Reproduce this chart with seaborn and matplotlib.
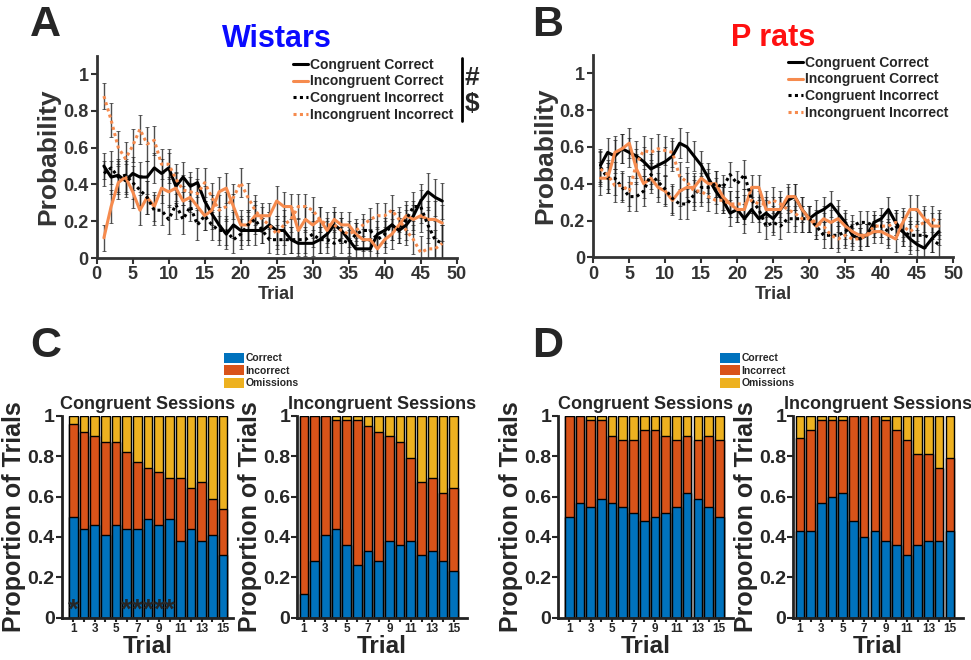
# ============================================================
# Congruent / incongruent trial performance - Wistars vs P rats
# ============================================================

import numpy as np
import pandas as pd
import matplotlib
matplotlib.use("Agg")
import matplotlib.pyplot as plt
from matplotlib.lines import Line2D
from matplotlib.patches import Patch
import seaborn as sns

# ============================================================
# DATA
# ============================================================

TRIALS = list(range(1, 49))

# Panel A - Wistars
A_CONG_CORRECT = [0.50, 0.44, 0.45, 0.42, 0.46, 0.44, 0.44, 0.49, 0.46, 0.49,
                  0.39, 0.44, 0.39, 0.41, 0.31, 0.24, 0.18, 0.13, 0.18, 0.15,
                  0.15, 0.15, 0.15, 0.18, 0.15, 0.15, 0.10, 0.08, 0.08, 0.08,
                  0.10, 0.13, 0.18, 0.15, 0.10, 0.05, 0.05, 0.05, 0.13, 0.15,
                  0.18, 0.15, 0.18, 0.23, 0.31, 0.36, 0.33, 0.31]
A_INCONG_CORRECT = [0.11, 0.28, 0.41, 0.44, 0.36, 0.26, 0.33, 0.28, 0.38, 0.36,
                    0.38, 0.31, 0.33, 0.28, 0.23, 0.26, 0.36, 0.38, 0.28, 0.18,
                    0.18, 0.23, 0.23, 0.23, 0.31, 0.28, 0.28, 0.15, 0.21, 0.18,
                    0.21, 0.15, 0.21, 0.18, 0.18, 0.13, 0.10, 0.10, 0.05, 0.10,
                    0.13, 0.18, 0.23, 0.21, 0.23, 0.21, 0.21, 0.19]
A_CONG_INCORRECT = [0.46, 0.49, 0.44, 0.45, 0.41, 0.37, 0.33, 0.26, 0.26, 0.21,
                    0.29, 0.21, 0.28, 0.18, 0.23, 0.18, 0.15, 0.15, 0.10, 0.13,
                    0.18, 0.21, 0.15, 0.10, 0.10, 0.10, 0.10, 0.10, 0.10, 0.13,
                    0.10, 0.10, 0.08, 0.10, 0.08, 0.13, 0.15, 0.15, 0.10, 0.13,
                    0.18, 0.15, 0.21, 0.28, 0.28, 0.18, 0.10, 0.08]
A_INCONG_INCORRECT = [0.88, 0.75, 0.60, 0.54, 0.61, 0.70, 0.62, 0.64, 0.51, 0.51,
                      0.43, 0.37, 0.36, 0.35, 0.41, 0.33, 0.26, 0.28, 0.33, 0.41,
                      0.33, 0.26, 0.21, 0.18, 0.13, 0.18, 0.21, 0.28, 0.28, 0.26,
                      0.21, 0.18, 0.18, 0.15, 0.13, 0.15, 0.18, 0.21, 0.23, 0.23,
                      0.26, 0.21, 0.15, 0.10, 0.03, 0.05, 0.05, 0.08]
A_SEM = [0.07, 0.09, 0.09, 0.09, 0.09, 0.08, 0.09, 0.08, 0.08, 0.08,
         0.08, 0.08, 0.08, 0.08, 0.08, 0.08, 0.08, 0.08, 0.07, 0.08,
         0.08, 0.08, 0.07, 0.07, 0.08, 0.08, 0.07, 0.07, 0.07, 0.07,
         0.07, 0.07, 0.07, 0.07, 0.07, 0.06, 0.06, 0.06, 0.07, 0.07,
         0.08, 0.07, 0.08, 0.08, 0.09, 0.10, 0.10, 0.10]

# Panel B - P rats
B_CONG_CORRECT = [0.50, 0.57, 0.55, 0.59, 0.57, 0.55, 0.52, 0.48, 0.50, 0.52,
                  0.55, 0.62, 0.60, 0.55, 0.50, 0.43, 0.36, 0.31, 0.24, 0.26,
                  0.21, 0.26, 0.21, 0.24, 0.21, 0.26, 0.31, 0.33, 0.26, 0.21,
                  0.24, 0.26, 0.29, 0.24, 0.19, 0.12, 0.10, 0.12, 0.19, 0.21,
                  0.26, 0.19, 0.14, 0.10, 0.07, 0.05, 0.10, 0.14]
B_INCONG_CORRECT = [0.43, 0.43, 0.57, 0.59, 0.62, 0.48, 0.40, 0.43, 0.38, 0.36,
                    0.31, 0.36, 0.38, 0.38, 0.43, 0.40, 0.40, 0.33, 0.29, 0.26,
                    0.26, 0.38, 0.38, 0.26, 0.26, 0.26, 0.33, 0.33, 0.26, 0.21,
                    0.17, 0.21, 0.19, 0.21, 0.17, 0.14, 0.12, 0.12, 0.14, 0.14,
                    0.12, 0.10, 0.19, 0.26, 0.26, 0.21, 0.17, 0.17]
B_CONG_INCORRECT = [0.49, 0.43, 0.43, 0.38, 0.33, 0.33, 0.36, 0.45, 0.41, 0.37,
                    0.32, 0.29, 0.29, 0.34, 0.38, 0.38, 0.40, 0.38, 0.45, 0.40,
                    0.45, 0.31, 0.26, 0.17, 0.19, 0.17, 0.21, 0.21, 0.21, 0.21,
                    0.17, 0.12, 0.12, 0.12, 0.14, 0.17, 0.19, 0.19, 0.17, 0.17,
                    0.14, 0.17, 0.14, 0.12, 0.12, 0.12, 0.10, 0.07]
B_INCONG_INCORRECT = [0.48, 0.45, 0.39, 0.39, 0.36, 0.51, 0.58, 0.57, 0.59, 0.58,
                      0.57, 0.44, 0.41, 0.36, 0.36, 0.33, 0.31, 0.31, 0.29, 0.29,
                      0.29, 0.31, 0.29, 0.29, 0.31, 0.29, 0.26, 0.24, 0.21, 0.21,
                      0.19, 0.17, 0.12, 0.10, 0.12, 0.10, 0.10, 0.12, 0.17, 0.17,
                      0.17, 0.19, 0.17, 0.14, 0.17, 0.19, 0.21, 0.19]
B_SEM = [0.09, 0.08, 0.09, 0.08, 0.08, 0.08, 0.08, 0.08, 0.08, 0.08,
         0.08, 0.08, 0.08, 0.08, 0.08, 0.08, 0.07, 0.07, 0.07, 0.07,
         0.08, 0.07, 0.07, 0.07, 0.07, 0.07, 0.07, 0.07, 0.07, 0.07,
         0.07, 0.07, 0.07, 0.07, 0.07, 0.06, 0.06, 0.06, 0.06, 0.06,
         0.07, 0.07, 0.08, 0.08, 0.08, 0.07, 0.07, 0.07]

# Panels C / D - first 15 trials, proportion of outcomes
BAR_TRIALS = list(range(1, 16))

C_CONG_CORRECT   = [0.50, 0.44, 0.46, 0.41, 0.46, 0.44, 0.44, 0.49, 0.46, 0.49, 0.38, 0.44, 0.38, 0.41, 0.31]
C_CONG_INCORRECT = [0.46, 0.48, 0.44, 0.46, 0.41, 0.38, 0.33, 0.25, 0.26, 0.20, 0.31, 0.20, 0.29, 0.18, 0.23]
C_CONG_OMISSION  = [0.04, 0.08, 0.10, 0.13, 0.13, 0.18, 0.23, 0.26, 0.28, 0.31, 0.31, 0.36, 0.33, 0.41, 0.46]

C_INC_CORRECT    = [0.12, 0.28, 0.41, 0.44, 0.36, 0.26, 0.33, 0.28, 0.38, 0.36, 0.38, 0.31, 0.33, 0.28, 0.23]
C_INC_INCORRECT  = [0.88, 0.72, 0.59, 0.54, 0.62, 0.72, 0.62, 0.64, 0.52, 0.51, 0.41, 0.36, 0.36, 0.34, 0.41]
C_INC_OMISSION   = [0.00, 0.00, 0.00, 0.02, 0.02, 0.02, 0.05, 0.08, 0.10, 0.13, 0.21, 0.33, 0.31, 0.38, 0.36]

D_CONG_CORRECT   = [0.50, 0.57, 0.55, 0.59, 0.57, 0.55, 0.52, 0.48, 0.50, 0.52, 0.55, 0.62, 0.59, 0.55, 0.50]
D_CONG_INCORRECT = [0.50, 0.43, 0.43, 0.39, 0.33, 0.33, 0.36, 0.45, 0.43, 0.38, 0.33, 0.28, 0.29, 0.35, 0.38]
D_CONG_OMISSION  = [0.00, 0.00, 0.02, 0.02, 0.10, 0.12, 0.12, 0.07, 0.07, 0.10, 0.12, 0.10, 0.12, 0.10, 0.12]

D_INC_CORRECT    = [0.43, 0.43, 0.57, 0.60, 0.62, 0.48, 0.40, 0.43, 0.38, 0.36, 0.31, 0.36, 0.38, 0.38, 0.43]
D_INC_INCORRECT  = [0.46, 0.50, 0.41, 0.38, 0.36, 0.52, 0.60, 0.57, 0.60, 0.57, 0.57, 0.45, 0.43, 0.36, 0.36]
D_INC_OMISSION   = [0.11, 0.07, 0.02, 0.02, 0.02, 0.00, 0.00, 0.00, 0.02, 0.07, 0.12, 0.19, 0.19, 0.26, 0.21]

STAR_TRIALS = [1, 6, 7, 8, 9, 10]   # significance marks in C congruent

SERIES_LABELS = ["Congruent Correct", "Incongruent Correct",
                 "Congruent Incorrect", "Incongruent Incorrect"]

# ============================================================
# STYLE
# ============================================================

BLACK  = "#000000"
ORANGE = "#f68b4e"
BLUE   = "#0072bd"
RED    = "#d95319"
YELLOW = "#edb120"
AXGRAY = "#333333"
DOTS   = (0, (1, 1.1))

sns.set_theme(style="ticks")
plt.rcParams["font.family"] = ["Liberation Sans", "DejaVu Sans"]
plt.rcParams["font.weight"] = "bold"
plt.rcParams["axes.labelweight"] = "bold"
plt.rcParams["axes.titleweight"] = "bold"


def fig_px(x, y):
    """pixel position (from top-left) -> figure fraction"""
    return x / 971, 1 - y / 660


# ============================================================
# LINE PANELS (A, B)
# ============================================================

def plot_lines(ax, series, sem, title, title_color, legend_xy):
    styles = [(BLACK, "-"), (ORANGE, "-"), (BLACK, DOTS), (ORANGE, DOTS)]
    for vals in series:
        ax.errorbar(TRIALS, vals, yerr=sem, fmt="none", ecolor="#222222",
                    elinewidth=1.0, capsize=1.2, capthick=0.6, alpha=0.8, zorder=1)
    for vals, (color, ls), label in zip(series, styles, SERIES_LABELS):
        df = pd.DataFrame({"trial": TRIALS, "p": vals})
        sns.lineplot(data=df, x="trial", y="p", color=color, linestyle=ls,
                     linewidth=2.2, label=label, ax=ax, zorder=3)

    ax.set_xlim(0, 50)
    ax.set_ylim(0, 1.1)
    ax.set_xticks(range(0, 51, 5))
    ax.set_yticks([0, 0.2, 0.4, 0.6, 0.8, 1.0])
    ax.set_yticklabels(["0", "0.2", "0.4", "0.6", "0.8", "1"])
    ax.tick_params(direction="out", length=4, width=1.5, color=AXGRAY,
                   labelcolor=AXGRAY, labelsize=13, pad=2)
    for lab in ax.get_xticklabels() + ax.get_yticklabels():
        lab.set_fontweight("bold")
    sns.despine(ax=ax)
    for sp in ["left", "bottom"]:
        ax.spines[sp].set_linewidth(2)
        ax.spines[sp].set_color(AXGRAY)

    ax.set_xlabel("Trial", fontsize=13, color=AXGRAY, labelpad=2)
    ax.set_ylabel("Probability", fontsize=19, color=AXGRAY, labelpad=2)
    ax.set_title(title, color=title_color, fontsize=22, pad=6)

    ax.legend(loc="upper left", bbox_to_anchor=fig_px(*legend_xy),
              bbox_transform=ax.figure.transFigure, frameon=False,
              fontsize=10, handlelength=1.1, handletextpad=0.15,
              labelspacing=0.18, borderpad=0, borderaxespad=0)


# ============================================================
# STACKED BAR PANELS (C, D)
# ============================================================

def plot_bars(ax, correct, incorrect, omission, title, xlim):
    correct = np.array(correct)
    inc_top = correct + np.array(incorrect)
    total = inc_top + np.array(omission)

    for vals, color in [(total, YELLOW), (inc_top, RED), (correct, BLUE)]:
        sns.barplot(x=BAR_TRIALS, y=vals, color=color, saturation=1,
                    width=0.81, edgecolor="black", linewidth=1,
                    errorbar=None, ax=ax)

    ax.set_xlim(*xlim)
    ax.set_ylim(0, 1)
    ax.set_xticks(range(len(BAR_TRIALS)))
    ax.set_xticklabels([str(t) if t % 2 else "" for t in BAR_TRIALS])
    ax.set_yticks([0, 0.2, 0.4, 0.6, 0.8, 1.0])
    ax.set_yticklabels(["0", "0.2", "0.4", "0.6", "0.8", "1"])
    ax.tick_params(axis="x", direction="out", length=3, width=1.5,
                   labelsize=8.5, pad=1)
    ax.tick_params(axis="y", direction="out", length=4, width=1.5,
                   labelsize=14, pad=1)
    for lab in ax.get_xticklabels() + ax.get_yticklabels():
        lab.set_fontweight("bold")
    sns.despine(ax=ax)
    for sp in ["left", "bottom"]:
        ax.spines[sp].set_linewidth(2)
        ax.spines[sp].set_color("#222222")

    ax.set_xlabel("Trial", fontsize=17.5, labelpad=0)
    ax.set_ylabel("Proportion of Trials", fontsize=18, labelpad=1)
    ax.set_title(title, fontsize=13, pad=5)


def bar_legend(fig, xy):
    handles = [Patch(facecolor=BLUE, edgecolor="none", label="Correct"),
               Patch(facecolor=RED, edgecolor="none", label="Incorrect"),
               Patch(facecolor=YELLOW, edgecolor="none", label="Omissions")]
    leg = fig.legend(handles=handles, loc="upper left", bbox_to_anchor=fig_px(*xy),
                     frameon=False, fontsize=7.5, handlelength=1.9,
                     handleheight=1.05, handletextpad=0.15, labelspacing=0.2,
                     borderpad=0, borderaxespad=0)
    return leg


# ============================================================
# MAIN
# ============================================================

def main():
    fig = plt.figure(figsize=(9.71, 6.60), dpi=100)

    axA = fig.add_axes([0.0996, 0.609, 0.3707, 0.3067])
    axB = fig.add_axes([0.611, 0.610, 0.3707, 0.307])

    plot_lines(axA, [A_CONG_CORRECT, A_INCONG_CORRECT, A_CONG_INCORRECT, A_INCONG_INCORRECT],
               A_SEM, "Wistars", "#0a0aff", (293, 58))
    plot_lines(axB, [B_CONG_CORRECT, B_INCONG_CORRECT, B_CONG_INCORRECT, B_INCONG_INCORRECT],
               B_SEM, "P rats", "#ff1010", (788, 56))

    # significance bracket next to the Wistar legend
    x0, y0 = fig_px(462, 58)
    _, y1 = fig_px(462, 121)
    fig.add_artist(Line2D([x0, x0], [y0, y1], color="black", lw=2,
                          transform=fig.transFigure))
    fig.text(*fig_px(472, 78), "#", fontsize=19, ha="center", va="center")
    fig.text(*fig_px(472, 104), "$", fontsize=19, ha="center", va="center")

    bottom, height = 0.064, 0.3061
    axC1 = fig.add_axes([0.0635, bottom, 0.1764, height])
    axC2 = fig.add_axes([0.3062, bottom, 0.1745, height])
    axD1 = fig.add_axes([0.5750, bottom, 0.1800, height])
    axD2 = fig.add_axes([0.8170, bottom, 0.1748, height])

    plot_bars(axC1, C_CONG_CORRECT, C_CONG_INCORRECT, C_CONG_OMISSION,
              "Congruent Sessions", (-1.08, 14.93))
    plot_bars(axC2, C_INC_CORRECT, C_INC_INCORRECT, C_INC_OMISSION,
              "Incongruent Sessions", (-0.61, 15.23))
    plot_bars(axD1, D_CONG_CORRECT, D_CONG_INCORRECT, D_CONG_OMISSION,
              "Congruent Sessions", (-1.02, 15.29))
    plot_bars(axD2, D_INC_CORRECT, D_INC_INCORRECT, D_INC_OMISSION,
              "Incongruent Sessions", (-0.61, 15.23))

    for t in STAR_TRIALS:
        axC1.text(BAR_TRIALS.index(t), 0.035, "*", fontsize=20,
                  ha="center", va="center")

    bar_legend(fig, (224, 353))
    bar_legend(fig, (720, 353))

    for letter, (px, py) in zip("ABCD", [(45, 25), (548, 25), (46, 346), (548, 346)]):
        fig.text(*fig_px(px, py), letter, fontsize=31, ha="center", va="center")

    fig.savefig("out.png", dpi=100)
    plt.close(fig)


if __name__ == "__main__":
    main()
